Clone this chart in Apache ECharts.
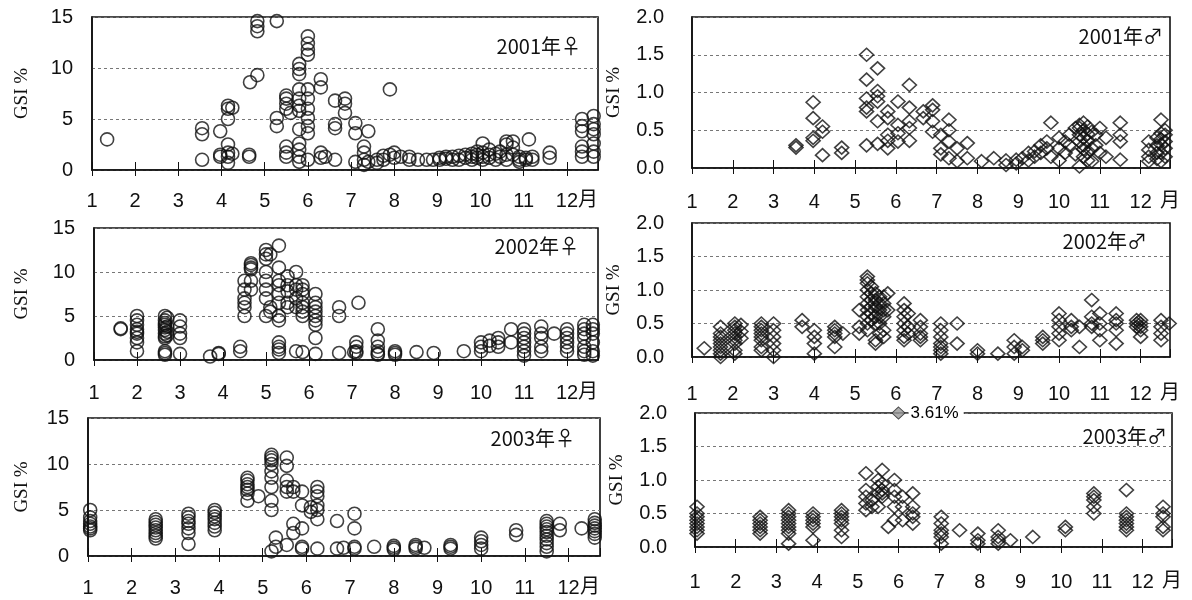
<!DOCTYPE html>
<html>
<head>
<meta charset="utf-8">
<script src="https://cdn.jsdelivr.net/npm/echarts@6/dist/echarts.min.js"></script>
<style>html,body{margin:0;padding:0;background:#fff}#c{width:1192px;height:600px}</style>
</head>
<body>
<div id="c"></div>
<script>
// month tick labels
const monthTicks = [1,2,3,4,5,6,7,8,9,10,11,12];
const monthUnit = '月';
const yTicksF = [0,5,10,15];
const yTicksM = [0.0,0.5,1.0,1.5,2.0];
const titles = ['2001年♀','2001年♂','2002年♀','2002年♂','2003年♀','2003年♂'];
// data: [month position, [GSI values]]
const f2001 = [
 [1.35,[3.0]],[3.55,[4.1,3.5,1.0]],[3.97,[3.8,1.5,1.3]],[4.15,[6.3,6.0,5.0,2.5,1.7,1.3,0.7]],
 [4.25,[6.1,1.6]],[4.64,[1.5,1.3]],[4.66,[8.6]],[4.83,[14.6,14.1,13.6,9.3]],[5.28,[14.6,5.1,4.3]],
 [5.5,[7.3,7.0,6.5,6.0,2.3,1.7,1.3]],[5.6,[5.6]],[5.8,[10.4,9.9,9.4,7.9,7.0,6.3,5.8,4.0,2.6,2.0,1.3,0.8]],
 [6.0,[13.1,12.4,11.8,11.3,7.9,7.0,6.0,5.1,4.3,3.6,1.0]],[6.3,[8.9,8.1,1.7,1.2]],[6.4,[1.3]],
 [6.63,[6.8,4.5,4.1,1.0]],[6.86,[7.0,6.5,5.6]],[7.1,[4.6,3.6,0.8]],[7.3,[2.3,1.7,1.0,0.5]],
 [7.4,[3.8,0.8]],[7.6,[0.7,1.0]],[7.75,[1.4,1.0]],[7.9,[7.9,1.5]],[8.0,[1.7,1.2]],[8.15,[1.3]],
 [8.35,[1.3,1.0]],[8.55,[1.0]],[8.75,[1.0]],[8.9,[1.0]],[9.05,[1.0,1.2]],[9.2,[1.1,1.3]],
 [9.35,[1.3,1.0]],[9.5,[1.4,1.0]],[9.65,[1.5,1.2]],[9.8,[1.6,1.3,1.0]],[9.92,[1.8,1.5,1.2]],
 [10.05,[2.6,1.7,1.3,1.0]],[10.2,[2.0,1.5,1.2]],[10.35,[1.6,1.0]],[10.45,[1.8,1.3]],[10.6,[2.8,2.5,1.5,1.0]],
 [10.75,[2.8,2.2,1.5]],[10.9,[1.3,1.0,0.8]],[11.05,[1.2,1.0]],[11.12,[3.0]],[11.2,[1.3,1.0]],
 [11.6,[1.7,1.2]],[12.35,[5.0,4.3,3.8,2.3,1.8,1.3]],[12.62,[5.3,4.5,4.0,3.5,2.6,1.8,1.3]]
];
const m2001 = [
 [3.55,[0.3,0.27]],[3.97,[0.87,0.66,0.4,0.36]],[4.2,[0.55,0.48,0.17]],[4.67,[0.27,0.2]],
 [5.28,[1.5,1.17,0.92,0.8,0.75,0.3]],[5.55,[1.32,1.02,0.95,0.88,0.62,0.32]],[5.8,[0.75,0.66,0.44,0.36,0.26]],
 [6.05,[0.88,0.57,0.46,0.35]],[6.33,[1.1,0.8,0.62,0.53,0.36]],[6.67,[0.75,0.66]],[6.9,[0.83,0.77,0.62,0.48]],
 [7.1,[0.44,0.26,0.18]],[7.3,[0.64,0.5,0.35,0.13]],[7.5,[0.26,0.09]],[7.75,[0.33,0.13]],[8.1,[0.09]],
 [8.4,[0.13]],[8.7,[0.04,0.1]],[8.95,[0.11,0.06]],[9.1,[0.13]],[9.25,[0.2,0.1]],[9.4,[0.22,0.15]],
 [9.55,[0.3,0.2]],[9.7,[0.26,0.35]],[9.8,[0.6,0.15]],[10.0,[0.26,0.4,0.1]],[10.15,[0.35,0.2]],
 [10.25,[0.44,0.3]],[10.4,[0.53,0.18]],[10.5,[0.57,0.53,0.44,0.35,0.02]],[10.6,[0.6,0.5,0.4,0.3,0.25,0.15]],
 [10.7,[0.55,0.45,0.35,0.2,0.1]],
 [10.8,[0.48,0.26,0.09]],[10.9,[0.44,0.3]],[11.0,[0.53,0.2]],[11.15,[0.4,0.15]],[11.5,[0.6,0.44,0.35,0.11]],
 [12.2,[0.35,0.24,0.09,0.15]],[12.4,[0.4,0.3,0.12,0.2]],[12.5,[0.64,0.46,0.31,0.2,0.09,0.38]],[12.6,[0.44,0.26,0.5,0.15,0.35]]
];
const f2002 = [
 [1.62,[3.5,3.6]],[2.0,[4.5,4.0,3.5,3.0,2.5,2.0,5.0,3.2,1.0]],
 [2.65,[5.0,4.5,4.2,4.0,3.7,3.4,3.0,2.7,2.5,1.0,0.8,0.6]],[2.7,[4.8,3.8,3.2,2.8]],[3.0,[4.5,3.8,3.0,2.5,0.7]],
 [3.7,[0.4]],[3.9,[0.7,0.8]],[4.4,[1.5,1.0]],[4.5,[9.0,8.0,7.0,6.5,6.0,5.0]],
 [4.65,[11.0,10.8,10.5,10.3,9.0,8.0]],[5.0,[12.5,12.0,11.5,10.0,9.0,8.0,7.0,5.0]],[5.1,[12.0,6.0,5.5]],
 [5.3,[13.0,10.5,9.0,8.5,7.5,6.5,5.0,4.5,2.0,1.5,1.2,0.8]],[5.5,[9.5,8.5,7.8,6.5,6.0]],
 [5.7,[10.0,8.5,8.0,7.0,6.0,1.0]],[5.85,[8.5,8.0,7.5,6.5,6.0,5.5,5.0,0.9]],
 [6.15,[7.5,6.5,6.0,5.5,5.0,4.5,4.0,2.5,0.7]],[6.7,[6.0,5.0,0.8]],[7.05,[0.9]],[7.15,[6.5]],
 [7.1,[2.0,1.5,1.0,0.8]],[7.6,[3.5,2.2,1.5,1.0,0.7,0.6]],[8.0,[1.0,0.8,0.6]],[8.5,[0.9]],[8.9,[0.8]],
 [9.6,[1.0]],[10.0,[2.0,1.5,1.0]],[10.2,[2.2,1.6]],[10.4,[2.5,2.0,1.5]],[10.7,[3.5,2.0]],
 [11.0,[3.5,3.0,2.5,2.0,1.5,1.0,0.5]],[11.4,[3.8,3.0,2.5,1.5,1.0]],[11.7,[3.0]],
 [12.0,[3.5,3.0,2.5,2.0,1.5,1.0]],[12.4,[4.0,3.5,3.0,2.5,1.5,1.0,0.6]],[12.6,[4.0,3.5,3.0,2.0,1.0,0.5]]
];
const m2002 = [
 [1.3,[0.13]],[1.7,[0.45,0.35,0.3,0.25,0.2,0.15,0.1,0.05,0.0]],[2.05,[0.5,0.45,0.4,0.35,0.3,0.25,0.2,0.1,0.05]],
 [2.2,[0.48,0.38,0.28]],[2.7,[0.5,0.45,0.4,0.35,0.3,0.25,0.15,0.1]],[3.0,[0.5,0.4,0.3,0.2,0.1,0.0]],
 [3.7,[0.55,0.45]],[4.0,[0.4,0.3,0.2,0.05]],[4.5,[0.45,0.4,0.35,0.3,0.15]],[4.7,[0.35]],
 [5.1,[0.7,0.45,0.35]],[5.3,[1.2,1.15,1.1,1.0,0.9,0.8,0.7,0.6,0.5,0.4]],[5.4,[1.05,0.95,0.85,0.75,0.65,0.55]],
 [5.5,[0.95,0.85,0.75,0.6,0.5,0.25,0.2]],[5.6,[0.9,0.8,0.7,0.6,0.5,0.35]],
 [5.7,[0.9,0.8,0.7,0.6,0.4,0.3]],[5.8,[0.95,0.7]],[6.2,[0.8,0.7,0.6,0.5,0.4,0.3,0.25]],[6.3,[0.65,0.45,0.35]],
 [6.6,[0.55,0.45,0.35,0.3,0.25]],[7.1,[0.5,0.4,0.3,0.2,0.15,0.1,0.05]],[7.5,[0.5,0.2]],[8.0,[0.1,0.05]],
 [8.5,[0.05]],[8.9,[0.25,0.15,0.05]],[9.1,[0.15,0.1]],[9.6,[0.3,0.25,0.2]],[10.0,[0.65,0.55,0.45,0.35,0.25]],
 [10.3,[0.55,0.45,0.4]],[10.5,[0.15,0.45]],[10.8,[0.85,0.6,0.5,0.45]],[11.0,[0.65,0.5,0.4,0.25]],
 [11.4,[0.65,0.55,0.5,0.4,0.2]],[11.9,[0.55,0.5,0.45]],[12.0,[0.55,0.5,0.45,0.4,0.3]],
 [12.5,[0.55,0.45,0.35,0.25]],[12.7,[0.5]]
];
const f2003 = [
 [1.05,[5.0,4.2,3.8,3.5,3.2,3.0,2.8]],[2.55,[4.0,3.7,3.4,3.1,2.8,2.5,2.2,1.9]],[3.3,[4.6,4.2,3.8,3.5,3.0,2.5,1.3]],
 [3.9,[5.0,4.7,4.3,4.0,3.6,3.2,2.8]],[4.65,[8.5,8.2,7.8,7.5,7.2,6.8,6.0]],[4.9,[6.5]],
 [5.2,[11.0,10.7,10.4,10.0,9.2,8.5,7.5,6.0,5.0,0.5]],[5.3,[2.0,1.0]],[5.55,[10.7,9.8,8.2,7.5,7.0,1.2]],
 [5.7,[3.5,2.5,7.5,7.0]],[5.9,[7.0,5.5,3.0,1.0,0.8]],[6.1,[5.3,4.8]],[6.25,[7.5,7.0,6.5,5.5,5.0,4.0,0.8]],
 [6.7,[3.8,0.8]],[6.85,[0.9]],[7.1,[4.6,3.0,1.0,0.8]],[7.55,[1.0]],[8.0,[1.1,0.9,0.7]],[8.5,[1.2,1.0,0.8]],
 [8.7,[0.9]],[9.3,[1.2,1.0,0.8]],[10.0,[2.0,1.6,1.2,0.8]],[10.8,[2.8,2.3]],
 [11.5,[3.8,3.5,3.2,2.9,2.6,2.2,1.8,1.4,1.0,0.5]],[11.8,[3.5,2.8]],[12.3,[3.0]],[12.6,[4.0,3.6,3.3,3.0,2.7,2.4,2.0]]
];
const m2003 = [
 [1.05,[0.6,0.5,0.45,0.4,0.35,0.3,0.25,0.2]],[2.6,[0.45,0.4,0.35,0.3,0.25,0.2]],
 [3.3,[0.55,0.5,0.45,0.4,0.35,0.3,0.25,0.2,0.05]],[3.9,[0.5,0.45,0.4,0.35,0.3,0.1]],
 [4.6,[0.55,0.5,0.45,0.4,0.35,0.25,0.15]],[5.2,[1.1,0.85,0.75,0.65,0.55]],[5.35,[0.6,0.7]],
 [5.5,[1.0,0.9,0.8,0.6]],[5.6,[1.15,0.95,0.85,0.8,0.75]],[5.75,[0.3]],[5.9,[1.0,0.85,0.75,0.6,0.4]],
 [6.1,[0.75,0.6,0.4]],[6.35,[0.8,0.6,0.5,0.45,0.35]],[7.05,[0.45,0.35,0.25,0.2,0.15,0.05]],[7.5,[0.25]],
 [7.95,[0.2,0.1,0.05]],[8.45,[0.25,0.15,0.1,0.05]],[8.75,[0.1]],[9.3,[0.15]],[10.1,[0.3,0.25]],
 [10.8,[0.8,0.75,0.7,0.6,0.5]],[11.6,[0.85,0.5,0.45,0.4,0.35,0.3,0.25]],[12.5,[0.6,0.5,0.45,0.3,0.25]]
];
// off-scale male 2003 point
const m2003Outlier = [[6.0, 3.61]];

const X_MAX = 12.72;
const panels = [
  {data:f2001, sym:'circle', yMax:15, yInt:5, grid:{left:92, top:17, width:506, height:153}, nameGap:60, lblMargin:19, xMargin:21, title:{right:606, top:31}, unitX:588},
  {data:m2001, sym:'diamond', yMax:2, yInt:0.5, grid:{left:692, top:17, width:478, height:151}, nameGap:68, lblMargin:28, xMargin:24, title:{right:24, top:21}, unitX:1170},
  {data:f2002, sym:'circle', yMax:15, yInt:5, grid:{left:94, top:228, width:504, height:132}, nameGap:62, lblMargin:19, xMargin:23, title:{right:608, top:231}, unitX:588},
  {data:m2002, sym:'diamond', yMax:2, yInt:0.5, grid:{left:692, top:223, width:478, height:134}, nameGap:68, lblMargin:28, xMargin:27, title:{right:40, top:226}, unitX:1170},
  {data:f2003, sym:'circle', yMax:15, yInt:5, grid:{left:88, top:418, width:512, height:138}, nameGap:56, lblMargin:19, xMargin:22, title:{right:612, top:423}, unitX:590},
  {data:m2003, sym:'diamond', yMax:2, yInt:0.5, grid:{left:695, top:413, width:477, height:134}, nameGap:68, lblMargin:28, xMargin:25, title:{right:20, top:421}, unitX:1172}
];

const FONT = '"Liberation Sans", Arial, sans-serif';
const grids = [], xAxes = [], yAxes = [], series = [], titleArr = [], graphics = [];
panels.forEach((p, i) => {
  grids.push(Object.assign({show:true, borderColor:'#111', borderWidth:1.6, backgroundColor:'transparent'}, p.grid));
  xAxes.push({
    type:'value', gridIndex:i, min:1, max:X_MAX, interval:1, position:'bottom',
    axisLine:{show:true, lineStyle:{color:'#111', width:1.6}},
    axisTick:{show:true, inside:false, length:6, lineStyle:{color:'#111', width:1}},
    axisLabel:{show:true, margin:p.xMargin, color:'#111', fontFamily:FONT, fontSize:20, showMaxLabel:false,
      formatter: v => monthTicks.indexOf(v) >= 0 ? String(v) : ''},
    splitLine:{show:false}
  });
  xAxes.push({
    type:'value', gridIndex:i, min:1, max:X_MAX, interval:1, position:'bottom',
    axisLine:{show:false}, axisLabel:{show:false}, splitLine:{show:false},
    axisTick:{show:true, inside:true, length:8, lineStyle:{color:'#111', width:1}}
  });
  yAxes.push({
    type:'value', gridIndex:i, min:0, max:p.yMax, interval:p.yInt,
    name:'GSI %', nameLocation:'middle', nameRotate:90, nameGap:p.nameGap,
    nameTextStyle:{fontFamily:'"Liberation Serif", "Times New Roman", serif', fontSize:19, color:'#111'},
    axisLine:{show:true, lineStyle:{color:'#111', width:1.6}},
    axisTick:{show:false},
    axisLabel:{color:'#111', fontFamily:FONT, fontSize:20, margin:p.lblMargin,
      formatter: v => p.yMax === 2 ? v.toFixed(1) : String(v)},
    splitLine:{show:true, lineStyle:{color:'#777', type:[3,3], width:1}}
  });
  const pts = [];
  p.data.forEach(([m, vals]) => vals.forEach(v => pts.push([m, v])));
  series.push({
    type:'scatter', xAxisIndex:2*i, yAxisIndex:i, data:pts, symbol:p.sym,
    symbolSize: p.sym === 'circle' ? 13 : [14, 13],
    itemStyle:{color:'rgba(0,0,0,0)', borderColor:'#111', borderWidth:1.6},
    silent:true, animation:false
  });
  titleArr.push({text:titles[i], right:p.title.right, top:p.title.top,
    textStyle:{fontFamily:'"Noto Sans CJK JP", sans-serif', fontSize:20, fontWeight:'normal', color:'#111'}});
  graphics.push({type:'text', left:p.unitX - 10, top:p.grid.top + p.grid.height + p.xMargin - 3,
    style:{text:monthUnit, font:'20px "Noto Sans CJK JP", sans-serif', fill:'#111'}});
});
// outlier in 2003 male, clipped to the top edge with its value as label
series.push({
  type:'scatter', xAxisIndex:10, yAxisIndex:5, symbol:'diamond', symbolSize:[13,12],
  data: m2003Outlier.map(([m, v]) => ({value:[m, Math.min(v, 2)], raw:v})),
  itemStyle:{color:'#999', borderColor:'#222', borderWidth:1}, clip:false, silent:true, animation:false, z:5,
  label:{show:true, position:'right', distance:3, formatter: d => d.data.raw.toFixed(2) + '%',
    fontFamily:FONT, fontSize:17, color:'#000', opacity:1, textBorderWidth:0, backgroundColor:'#fff', padding:[2,5,2,2]}
});

const chart = echarts.init(document.getElementById('c'), null, {renderer:'canvas'});
chart.setOption({
  backgroundColor:'#fff', animation:false,
  title:titleArr, grid:grids, xAxis:xAxes, yAxis:yAxes, series:series, graphic:graphics
});
</script>
</body>
</html>
